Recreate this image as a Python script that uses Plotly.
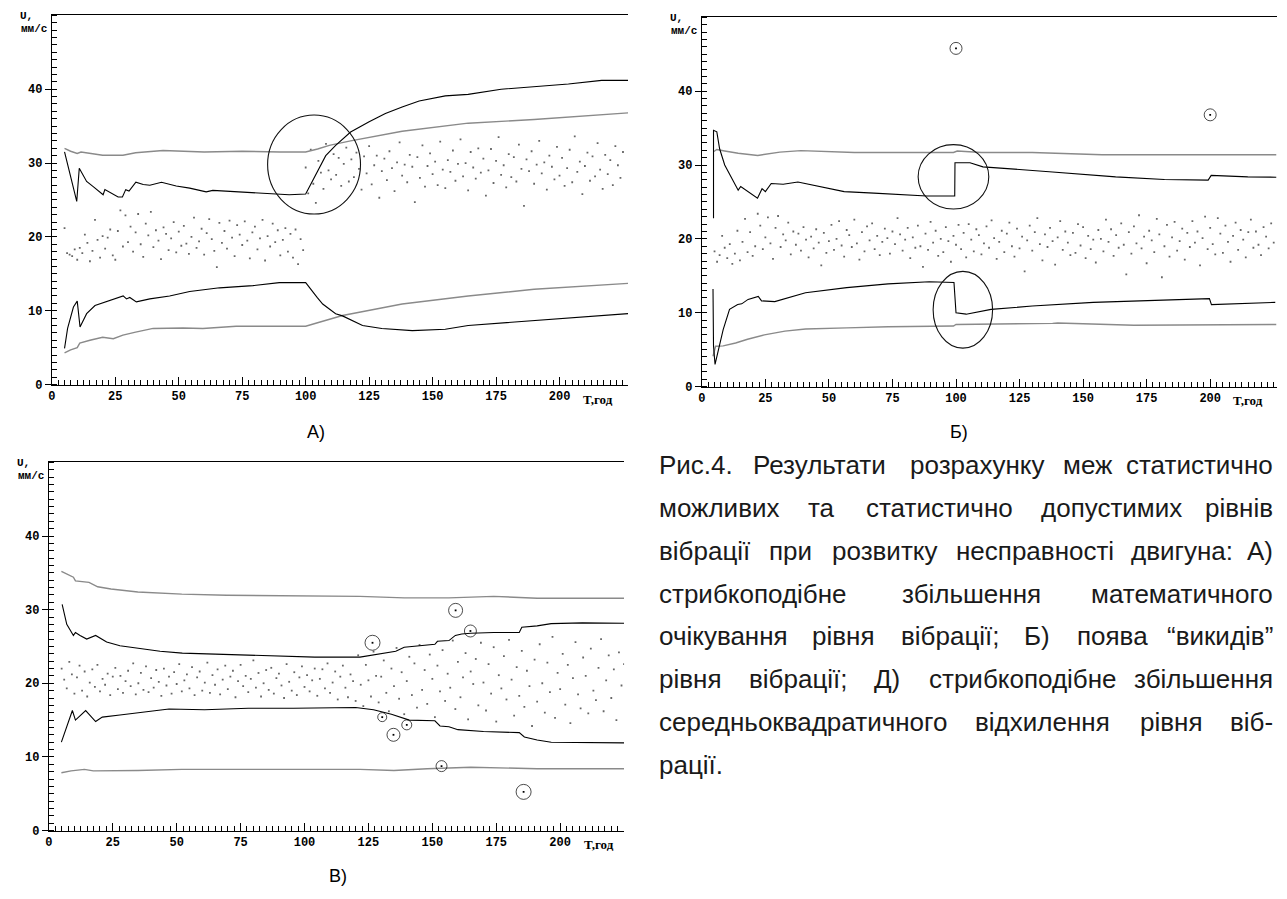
import plotly.graph_objects as go

# ---------------- data ----------------
T_GRID = list(range(5, 226))          # hourly measurement grid, h
X_TICKS = [0, 25, 50, 75, 100, 125, 150, 175, 200]
Y_TICKS = [0, 10, 20, 30, 40]

# ---- Panel A: step growth of the mean ----
A_DOTS = [
    21.2, 17.8, 17.6, 17.4, 18.3, 16.9, 18.5, 17.8, 20.3, 19.2,
    16.7, 18.1, 22.3, 19.6, 17.2, 20.1, 18.4, 19.9, 21.0, 17.5,
    16.9, 20.8, 23.6, 18.7, 22.9, 19.3, 21.4, 18.0, 20.6, 23.1,
    19.0, 17.3, 21.8, 20.2, 23.4, 18.6, 20.9, 19.5, 17.0, 21.3,
    20.4, 18.2, 19.8, 22.0, 17.9, 20.7, 18.8, 21.5, 19.1, 17.7,
    20.0, 22.6, 18.5, 19.4, 21.1, 17.6, 20.5, 22.4, 19.7, 18.1,
    15.9, 21.9, 19.2, 20.8, 18.4, 22.2, 19.9, 17.4, 21.6, 20.3,
    18.9, 22.1, 19.5, 17.1, 20.6, 21.4, 18.3, 19.8, 22.3, 16.8,
    20.1, 18.7, 21.8, 19.3, 20.9, 17.5, 19.6, 21.2, 18.0, 20.4,
    17.2, 21.0, 16.3, 19.7, 18.2,
    29.4, 25.9, 31.8, 27.2, 24.6, 30.3, 28.7, 26.5, 32.6, 29.0,
    27.8, 31.2, 28.4, 30.7, 26.9, 29.9, 32.1, 27.5, 30.5, 28.1,
    31.4, 29.2, 26.4, 30.9, 28.6, 32.3, 27.1, 29.7, 31.0, 25.3,
    28.9, 30.6, 27.7, 31.6, 29.3, 26.2, 30.1, 32.8, 28.3, 29.8,
    27.4, 31.1, 29.5, 24.7, 30.8, 28.0, 32.4, 26.8, 29.6, 31.3,
    28.5, 30.2, 27.0, 32.9, 29.1, 26.6, 30.4, 28.8, 31.7, 27.6,
    29.9, 33.2, 28.2, 30.0, 26.3, 31.5, 29.4, 27.9, 32.0, 28.7,
    30.6, 25.6, 29.0, 31.9, 27.3, 30.3, 33.5, 28.4, 29.7, 26.7,
    31.2, 28.1, 30.8, 27.5, 32.5, 29.2, 24.2, 30.5, 28.9, 31.6,
    27.2, 29.8, 33.0, 28.6, 30.1, 26.4, 31.0, 29.5, 27.8, 32.2,
    28.3, 30.7, 26.9, 29.3, 31.8, 27.4, 33.6, 28.8, 30.2, 25.8,
    29.6, 31.4, 27.6, 30.9, 28.2, 32.7, 29.1, 26.5, 31.1, 28.5,
    30.4, 27.0, 32.3, 29.7, 28.0, 31.5,
]
A_UPB_T = [5, 9.8, 10.8, 13.7, 16.3, 20.2, 20.9, 23.5, 26.1, 27.8, 29.1, 30.4, 33.1, 36, 38.6,
           43.2, 49, 54.3, 60.8, 63.4, 72.6, 80.4, 88.3, 93.5, 100, 104, 107.9, 111.8, 117.7,
           125, 131.4, 138, 144.7, 155, 164, 177, 190, 203.5, 216.6, 227]
A_UPB_V = [31.5, 24.8, 29.3, 27.5, 26.8, 25.7, 26.4, 25.9, 25.4, 25.4, 26.4, 26.2, 27.4, 27.1, 27.0,
           27.4, 26.9, 26.6, 26.1, 26.3, 26.1, 26.0, 25.8, 25.7, 25.8, 28.4, 31.0, 32.4, 34.2,
           35.6, 36.7, 37.6, 38.4, 39.1, 39.3, 40.0, 40.3, 40.7, 41.2, 41.2]
A_LOB_T = [5, 6.2, 8.5, 10, 11.1, 13.7, 17, 20.2, 24.2, 28.1, 29.4, 30.7, 33.3, 38.6, 46.4, 54.3,
           66.1, 79.2, 89.6, 100, 104.5, 106.7, 111.8, 114.5, 122.4, 130, 142, 155, 164, 185, 205, 227]
A_LOB_V = [4.9, 7.6, 10.5, 11.3, 7.8, 9.6, 10.7, 11.1, 11.6, 12.0, 11.6, 11.8, 11.2, 11.6, 12.0, 12.6,
           13.1, 13.4, 13.8, 13.8, 11.8, 10.9, 9.6, 9.3, 8.0, 7.6, 7.3, 7.5, 8.0, 8.5, 9.0, 9.6]
A_UPG_T = [5, 7.4, 10, 11.5, 20, 28, 33, 43.8, 60, 75, 90, 100, 104.7, 109.3, 117.7, 138, 164, 190, 227]
A_UPG_V = [32.0, 31.6, 31.3, 31.5, 31.05, 31.05, 31.4, 31.7, 31.5, 31.6, 31.5, 31.5, 31.9, 32.4,
           33.0, 34.3, 35.4, 35.9, 36.8]
A_LOG_T = [5, 7.4, 10, 11, 15, 20, 24.2, 28, 33, 39.9, 51.7, 59.5, 72.6, 85.7, 94.9, 100, 104,
           110.6, 114.5, 138, 164, 190, 227]
A_LOG_V = [4.3, 4.7, 5.0, 5.6, 6.0, 6.4, 6.2, 6.7, 7.1, 7.6, 7.65, 7.6, 7.9, 7.9, 8.0, 7.9, 8.3,
           8.9, 9.35, 10.9, 12.0, 12.9, 13.7]
A_RING = [103.3, 29.8, 18.3, 6.7]      # centre t, centre v, half-width, half-height

# ---- Panel B: outliers ----
B_DOTS = [
    18.3, 16.9, 17.8, 20.4, 18.8, 17.4, 19.3, 16.6, 18.0, 21.1,
    17.1, 19.6, 22.7, 18.2, 20.9, 17.7, 19.0, 23.4, 21.8, 18.6,
    20.2, 22.9, 19.4, 17.3, 21.5, 23.1, 18.9, 20.6, 19.8, 22.2,
    17.9, 21.0, 19.2, 20.7, 18.4, 21.6, 19.9, 17.5, 20.3, 18.7,
    21.3, 19.5, 16.4, 20.8, 18.1, 19.7, 21.9, 18.5, 20.0, 22.4,
    19.1, 17.6, 21.2, 20.5, 18.9, 22.6, 19.4, 17.2, 20.9, 18.3,
    21.7, 19.8, 22.1, 18.6, 20.4, 17.8, 19.6, 21.4, 20.1, 18.0,
    21.0, 19.3, 22.8, 20.6, 18.4, 19.9, 21.5, 17.4, 20.2, 18.8,
    21.8, 19.0, 16.2, 20.7, 18.5, 22.3, 19.5, 21.1, 17.7, 20.0,
    18.2, 21.6, 19.7, 16.9, 20.4,
    19.2, 21.9, 18.6, 20.8, 17.5, 22.0, 19.9, 18.3, 21.3, 20.5,
    17.9, 19.4, 21.7, 18.8, 22.5, 20.1, 17.3, 19.6, 21.1, 18.2,
    20.7, 22.2, 19.0, 17.6, 21.4, 18.7, 20.3, 15.6, 19.8, 21.8,
    18.4, 20.9, 22.8, 19.3, 17.1, 20.6, 18.9, 21.5, 19.7, 16.5,
    20.2, 22.4, 18.5, 21.0, 19.5, 17.8, 20.8, 18.1, 22.0, 19.1,
    21.6, 17.4, 20.4, 18.6, 19.9, 16.8, 21.2, 20.0, 18.3, 22.6,
    19.6, 21.3, 17.7, 20.5, 18.8, 22.1, 19.2, 15.2, 20.9, 18.0,
    21.7, 19.4, 23.2, 18.7, 20.3, 16.7, 21.1, 19.8, 18.2, 22.7,
    20.6, 14.8, 19.0, 21.9, 17.6, 20.2, 22.3, 18.4, 19.7, 21.4,
    17.2, 20.8, 18.9, 22.4, 19.5, 21.0, 16.4, 20.1, 23.0, 18.6,
    21.5, 19.3, 17.9, 22.8, 20.7, 18.1, 21.8, 19.6, 16.9, 20.4,
    22.2, 18.5, 21.2, 19.9, 17.5, 20.9, 22.6, 18.8, 21.0, 19.2,
    17.8, 21.6, 20.3, 18.7, 22.1, 19.5,
]
B_OUT_T = [100, 200]
B_OUT_V = [45.8, 36.8]
B_UPB_T = [4.6, 4.6, 5.9, 7, 9, 11.7, 14.3, 15.3, 18.2, 21.9, 23.7, 25, 27.3, 32, 37.8, 44.3, 49.5,
           56, 67.7, 80.7, 88.5, 99.5, 99.6, 105.5, 110.6, 136.7, 162.8, 182, 199.2, 200.4, 214.8, 226]
B_UPB_V = [22.8, 34.7, 34.5, 32.2, 30.0, 28.2, 26.6, 27.1, 26.4, 25.5, 26.8, 26.4, 27.5, 27.4, 27.7,
           27.2, 26.8, 26.4, 26.2, 25.95, 25.8, 25.8, 30.3, 30.3, 29.75, 29.1, 28.4, 28.05, 27.95,
           28.6, 28.4, 28.35]
B_UPG_T = [4.6, 5.9, 9, 14.3, 22, 30.7, 39, 60, 80, 99, 100.5, 110, 130, 157.5, 226]
B_UPG_V = [31.8, 32.1, 31.9, 31.6, 31.3, 31.75, 31.95, 31.7, 31.7, 31.7, 31.9, 31.7, 31.7, 31.4, 31.4]
B_LOB_T = [4.4, 4.6, 5.2, 6.8, 8.4, 10.9, 14.1, 15.7, 18.2, 22.2, 23.5, 28.7, 35.2, 40.8, 57, 73.3,
           89.5, 99.2, 100, 104, 113.8, 130, 154, 186.7, 199.7, 200.5, 225.6]
B_LOB_V = [13.2, 5.5, 3.0, 5.45, 7.7, 10.45, 11.1, 11.2, 11.8, 12.2, 11.6, 11.5, 12.1, 12.7, 13.4,
           13.9, 14.2, 14.1, 10.0, 9.8, 10.45, 10.9, 11.4, 11.8, 11.9, 11.1, 11.4]
B_LOG_T = [4.4, 5.4, 8.4, 13.3, 18, 24.6, 32.7, 40.8, 57, 73.3, 99, 100, 138, 140, 170, 226]
B_LOG_V = [4.1, 5.45, 5.5, 5.9, 6.4, 7.0, 7.5, 7.8, 7.95, 8.1, 8.2, 8.4, 8.55, 8.6, 8.3, 8.4]
B_RINGS = [[99.0, 28.4, 13.9, 4.36], [102.7, 10.4, 11.7, 5.2]]

# ---- Panel C: step growth of the standard deviation ----
C_DOTS = [
    22.0, 20.5, 19.3, 22.9, 21.2, 18.6, 20.8, 22.4, 19.0, 21.6,
    18.2, 20.1, 21.9, 19.5, 22.5, 18.9, 20.6, 19.8, 21.3, 18.4,
    20.9, 22.1, 19.2, 21.0, 18.7, 20.3, 21.7, 19.6, 22.7, 18.5,
    20.0, 21.4, 19.1, 22.3, 18.8, 20.7, 19.4, 21.8, 20.2, 18.3,
    22.0, 19.7, 20.9, 18.6, 21.5, 19.9, 22.6, 18.9, 20.4, 21.2,
    19.3, 22.2, 18.4, 20.8, 21.6, 19.0, 20.1, 22.8, 18.7, 21.1,
    19.8, 21.9, 18.5, 20.5, 22.4, 19.2, 20.9, 21.7, 18.1, 20.3,
    22.5, 19.6, 21.0, 18.8, 20.6, 23.1, 19.4, 21.4, 18.2, 20.0,
    21.8, 19.1, 22.1, 18.6, 20.7, 21.3, 19.7, 18.0, 22.6, 20.2,
    19.0, 21.5, 18.4, 20.8, 22.3, 19.5, 21.1, 18.9, 20.4, 22.0,
    18.3, 20.6, 21.9, 19.3, 22.7, 18.7, 20.1, 21.6, 17.8, 20.9,
    22.4, 19.4, 18.1, 21.2, 20.3,
    17.6, 23.8, 19.8, 16.9, 22.5, 20.4, 18.2, 24.3, 21.0, 17.4,
    20.9, 23.1, 18.7, 16.2, 22.0, 19.6, 24.8, 17.9, 21.5, 15.8,
    20.3, 23.6, 18.4, 22.7, 16.7, 25.2, 19.1, 21.8, 17.2, 23.9,
    20.6, 15.4, 22.4, 18.9, 24.5, 17.6, 21.3, 19.4, 25.8, 16.5,
    22.9, 18.1, 20.8, 24.1, 15.1, 21.6, 19.9, 23.3, 17.0, 25.5,
    20.1, 16.3, 22.6, 18.6, 24.9, 14.8, 21.1, 19.3, 23.7, 17.8,
    25.9, 20.5, 15.6, 22.2, 18.3, 24.4, 16.8, 21.7, 19.6, 14.2,
    23.2, 17.5, 25.3, 20.0, 16.0, 22.8, 18.8, 26.3, 15.3, 21.4,
    19.2, 24.0, 17.1, 22.5, 14.6, 20.7, 25.6, 18.5, 16.6, 23.5,
    21.0, 15.9, 24.7, 19.0, 17.7, 22.1, 26.0, 16.2, 20.4, 23.8,
    18.0, 21.9, 15.0, 24.2, 19.7, 22.6,
]
C_OUT_T = [126.6, 159.1, 164.9, 130.4, 134.8, 140.0, 153.6, 185.7]
C_OUT_V = [25.5, 29.9, 27.1, 15.4, 13.0, 14.35, 8.75, 5.25]
C_OUT_SIZE = [15, 14, 12, 9, 13, 10, 11, 15]
C_UPG_T = [4.9, 9.6, 10.4, 15.7, 19.1, 24.3, 34.8, 52, 69.6, 87, 121.7, 139, 156.5, 174, 191, 225]
C_UPG_V = [35.2, 34.4, 33.9, 33.7, 33.1, 32.8, 32.4, 32.1, 31.95, 31.9, 31.8, 31.6, 31.6, 31.8, 31.55, 31.55]
C_UPB_T = [5.2, 7, 9.6, 10.4, 12.2, 14.8, 18.3, 22.6, 27.8, 34.8, 43.5, 52.2, 60.9, 78, 95.7, 104,
           121.7, 130, 135.7, 139, 144, 151, 152, 156.5, 159, 161.5, 165, 174, 184, 185, 191, 196.5, 208.7, 225]
C_UPB_V = [30.7, 28.0, 26.5, 26.9, 26.5, 26.0, 26.5, 25.6, 25.1, 24.8, 24.35, 24.1, 24.0, 23.85, 23.7,
           23.55, 23.55, 24.0, 24.35, 24.9, 25.1, 25.3, 25.7, 25.8, 26.5, 26.7, 26.8, 26.9, 26.9,
           27.6, 27.8, 28.1, 28.2, 28.15]
C_LOB_T = [4.9, 7, 9.2, 10.4, 14.4, 18.3, 20.9, 27.8, 34.8, 47, 60.9, 78, 95.7, 120, 127, 134, 141,
           151, 153, 156.5, 160, 170, 184, 186, 191, 196.5, 225]
C_LOB_V = [12.0, 14.1, 16.3, 15.0, 16.3, 14.8, 15.4, 15.7, 16.0, 16.5, 16.4, 16.6, 16.6, 16.7, 16.4,
           15.8, 15.0, 14.9, 14.2, 14.1, 13.7, 13.45, 13.3, 12.7, 12.3, 12.0, 11.9]
C_LOG_T = [4.9, 8.7, 13.9, 17.4, 34.8, 52, 87, 121.7, 135, 148, 165, 191, 225]
C_LOG_V = [7.85, 8.1, 8.3, 8.1, 8.15, 8.3, 8.3, 8.3, 8.15, 8.4, 8.6, 8.4, 8.4]

PANEL_LABELS = ["A)", "Б)", "В)"]
CAPTION_LINES = [
    "Рис.4. Результати розрахунку меж статистично",
    "можливих та статистично допустимих рівнів",
    "вібрації при розвитку несправності двигуна: А)",
    "стрибкоподібне збільшення математичного",
    "очікування рівня вібрації; Б) поява “викидів”",
    "рівня вібрації; Д) стрибкоподібне збільшення",
    "середньоквадратичного відхилення рівня віб-",
    "рації.",
]

# ---------------- layout geometry (pixels) ----------------
W, H = 1287, 899
GEO = [
    dict(l=48, r=626, t=15, b=388, xmax=227.0, lab=(313, 436)),
    dict(l=700, r=1277, t=17, b=390, xmax=226.3, lab=(958, 436)),
    dict(l=45, r=622, t=466, b=838, xmax=225.0, lab=(335, 884)),
]
YMAX = 50.07
BLACK = "#000000"
GRAY = "#8a8a8a"
DOTC = "#666666"

fig = go.Figure()


def fx(px):
    return px / W


def fy(py):
    return 1 - py / H


def add_line(i, t, v, color, width=1.1):
    fig.add_trace(go.Scatter(x=t, y=v, mode="lines", line=dict(color=color, width=width),
                             xaxis=f"x{i}", yaxis=f"y{i}", hoverinfo="skip", showlegend=False))


def add_dots(i, t, v):
    fig.add_trace(go.Scatter(x=t, y=v, mode="markers",
                             marker=dict(size=1.8, color=DOTC, symbol="square", line=dict(width=0)),
                             xaxis=f"x{i}", yaxis=f"y{i}", hoverinfo="skip", showlegend=False))


def add_outliers(i, t, v, sizes):
    fig.add_trace(go.Scatter(x=t, y=v, mode="markers",
                             marker=dict(size=sizes, color=BLACK, symbol="circle-open", line=dict(width=1, color="#222")),
                             xaxis=f"x{i}", yaxis=f"y{i}", hoverinfo="skip", showlegend=False))
    fig.add_trace(go.Scatter(x=t, y=v, mode="markers",
                             marker=dict(size=1.8, color=BLACK, symbol="square"),
                             xaxis=f"x{i}", yaxis=f"y{i}", hoverinfo="skip", showlegend=False))


def add_ring(i, ring):
    cx, cy, rx, ry = ring
    fig.add_shape(type="circle", xref=f"x{i}", yref=f"y{i}", x0=cx - rx, x1=cx + rx,
                  y0=cy - ry, y1=cy + ry, line=dict(color="#111", width=1.1))


# panel A (1)
add_dots(1, T_GRID, A_DOTS)
add_line(1, A_UPG_T, A_UPG_V, GRAY, 1.4)
add_line(1, A_LOG_T, A_LOG_V, GRAY, 1.4)
add_line(1, A_UPB_T, A_UPB_V, BLACK)
add_line(1, A_LOB_T, A_LOB_V, BLACK)
add_ring(1, A_RING)

# panel B (2)
add_dots(2, T_GRID, B_DOTS)
add_line(2, B_UPG_T, B_UPG_V, GRAY, 1.4)
add_line(2, B_LOG_T, B_LOG_V, GRAY, 1.4)
add_line(2, B_UPB_T, B_UPB_V, BLACK)
add_line(2, B_LOB_T, B_LOB_V, BLACK)
add_outliers(2, B_OUT_T, B_OUT_V, [12, 12])
for r in B_RINGS:
    add_ring(2, r)

# panel C (3)
add_dots(3, T_GRID, C_DOTS)
add_line(3, C_UPG_T, C_UPG_V, GRAY, 1.4)
add_line(3, C_LOG_T, C_LOG_V, GRAY, 1.4)
add_line(3, C_UPB_T, C_UPB_V, BLACK)
add_line(3, C_LOB_T, C_LOB_V, BLACK)
add_outliers(3, C_OUT_T, C_OUT_V, C_OUT_SIZE)

tickfont = dict(family="Liberation Mono", size=12, color="black", weight="bold")
smallfont = dict(family="Liberation Mono", size=11, color="black", weight="bold")
layout = dict(width=W, height=H, margin=dict(l=0, r=0, t=0, b=0),
              paper_bgcolor="white", plot_bgcolor="white", showlegend=False)
annotations = []
for k, g in enumerate(GEO, start=1):
    sfx = "" if k == 1 else str(k)
    layout[f"xaxis{sfx}"] = dict(
        domain=[fx(g["l"]), fx(g["r"])], range=[0, g["xmax"]], anchor=f"y{k}",
        tickmode="array", tickvals=X_TICKS, ticktext=[str(v) for v in X_TICKS],
        ticks="inside", ticklen=8, tickwidth=1, tickcolor="black",
        showline=True, linecolor="black", linewidth=1, mirror=True,
        showgrid=False, zeroline=False, tickfont=tickfont, fixedrange=True,
        minor=dict(dtick=2.5, tick0=0, ticks="inside", ticklen=5, tickwidth=1,
                   tickcolor="black", showgrid=False))
    layout[f"yaxis{sfx}"] = dict(
        domain=[fy(g["b"]), fy(g["t"])], range=[0, YMAX], anchor=f"x{k}",
        tickmode="array", tickvals=Y_TICKS, ticktext=[str(v) for v in Y_TICKS],
        ticks="outside", ticklen=6, tickwidth=1, tickcolor="black",
        showline=True, linecolor="black", linewidth=1, mirror=False,
        showgrid=False, zeroline=False, tickfont=tickfont, fixedrange=True,
        minor=dict(dtick=1, tick0=0, ticks="inside", ticklen=5, tickwidth=1,
                   tickcolor="black", showgrid=False))
    # axis titles
    annotations.append(dict(text="U,", x=fx(g["l"] - 25), y=fy(g["t"] + 1), xref="paper", yref="paper",
                            xanchor="center", yanchor="middle", showarrow=False, font=smallfont))
    annotations.append(dict(text="мм/с", x=fx(g["l"] - 3), y=fy(g["t"] + 14), xref="paper", yref="paper",
                            xanchor="right", yanchor="middle", showarrow=False, font=smallfont))
    annotations.append(dict(text="T,год", x=215, y=fy(g["b"] + 5), xref=f"x{k}", yref="paper",
                            xanchor="center", yanchor="top", showarrow=False,
                            font=dict(family="Liberation Serif", size=13, color="black", weight="bold")))
    annotations.append(dict(text=PANEL_LABELS[k - 1], x=fx(g["lab"][0]), y=fy(g["lab"][1]),
                            xref="paper", yref="paper", xanchor="center", yanchor="middle",
                            showarrow=False, font=dict(family="Liberation Sans", size=18, color="black")))

# caption, justified between two margins
CW = {' ': 278, '.': 278, ',': 278, ';': 278, ':': 278, ')': 333, '(': 333, '-': 333, '“': 333, '”': 333,
      '4': 556, 'а': 556, 'б': 573, 'в': 531, 'г': 365, 'д': 583, 'е': 556, 'ж': 669, 'з': 458, 'и': 559,
      'й': 559, 'к': 438, 'л': 583, 'м': 688, 'н': 552, 'о': 556, 'п': 542, 'р': 556, 'с': 500, 'т': 458,
      'у': 500, 'ф': 823, 'х': 500, 'ц': 573, 'ч': 521, 'ш': 802, 'щ': 823, 'ь': 521, 'ю': 750, 'я': 542,
      'і': 222, 'ї': 278, 'є': 510, 'А': 667, 'Б': 656, 'В': 667, 'Д': 677, 'Р': 667}
CAP_L, CAP_R, CAP_Y0, CAP_DY, CAP_SIZE = 655, 1275, 469, 43.3, 26
capfont = dict(family="Liberation Sans", size=CAP_SIZE, color="#1a1a1a")


def wpx(s):
    return sum(CW.get(c, 556) for c in s) * CAP_SIZE / 1000 * 0.975


for li, line in enumerate(CAPTION_LINES):
    yy = fy(CAP_Y0 + li * CAP_DY)
    words = line.split(" ")
    if li == len(CAPTION_LINES) - 1 or len(words) == 1:
        annotations.append(dict(text=line, x=fx(CAP_L), y=yy, xref="paper", yref="paper",
                                xanchor="left", yanchor="middle", showarrow=False, font=capfont))
        continue
    total = sum(wpx(w) for w in words)
    gap = (CAP_R - CAP_L - total) / (len(words) - 1)
    xcur = CAP_L
    for wi, w in enumerate(words):
        last = wi == len(words) - 1
        annotations.append(dict(text=w, x=fx(CAP_R if last else xcur), y=yy, xref="paper", yref="paper",
                                xanchor="right" if last else "left", yanchor="middle",
                                showarrow=False, font=capfont))
        xcur += wpx(w) + gap

layout["annotations"] = annotations
fig.update_layout(**layout)

fig.write_html("out.html", config={"displayModeBar": False},
               post_script="document.body.style.margin='0';")
